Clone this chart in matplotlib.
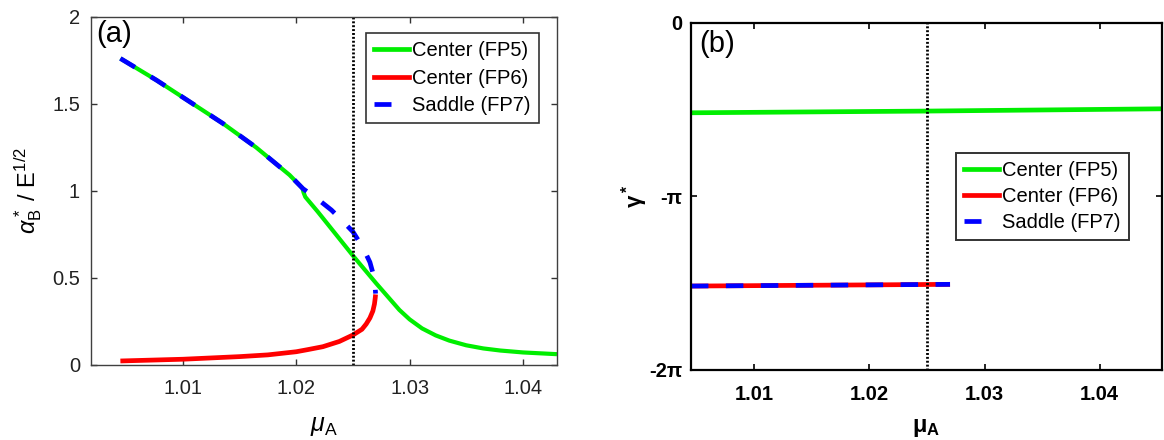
import numpy as np
import matplotlib
matplotlib.use("Agg")
import matplotlib.pyplot as plt
from matplotlib.lines import Line2D

plt.rcParams['font.family'] = ['Liberation Sans', 'DejaVu Sans']
plt.rcParams['mathtext.fontset'] = 'custom'
plt.rcParams['mathtext.rm'] = 'Liberation Sans'
plt.rcParams['mathtext.it'] = 'Liberation Sans:italic'
plt.rcParams['mathtext.bf'] = 'Liberation Sans:bold'

# ---- panel (a) data: alpha_B* / E^(1/2) vs mu_A ----
fp5_mu = [1.00449, 1.00766, 1.01059, 1.01353, 1.01647, 1.01941, 1.02055, 1.02065,
          1.0208, 1.0219, 1.0235, 1.0250, 1.02705, 1.0291, 1.0300, 1.0311, 1.0323,
          1.0335, 1.0350, 1.0365, 1.0380, 1.0400, 1.0430]
fp5_alpha = [1.760, 1.636, 1.512, 1.387, 1.249, 1.091, 1.015, 0.990,
             0.965, 0.880, 0.750, 0.628, 0.469, 0.316, 0.262, 0.210, 0.170,
             0.140, 0.113, 0.095, 0.083, 0.072, 0.062]

fp6_mu = [1.00449, 1.0100, 1.0150, 1.0175, 1.0200, 1.0210, 1.02235, 1.0238,
          1.0250, 1.0258, 1.02617, 1.0265, 1.02676, 1.0269, 1.02697, 1.0270]
fp6_alpha = [0.023, 0.033, 0.048, 0.058, 0.076, 0.088, 0.105, 0.135,
             0.172, 0.205, 0.235, 0.270, 0.310, 0.350, 0.385, 0.405]

fp7_mu = [1.00449, 1.00766, 1.01059, 1.01353, 1.01647, 1.01941, 1.0206, 1.0219,
          1.0231, 1.0241, 1.0250, 1.0259, 1.0265, 1.0268, 1.02695, 1.0270]
fp7_alpha = [1.760, 1.636, 1.512, 1.387, 1.249, 1.091, 1.012, 0.952,
             0.890, 0.826, 0.765, 0.672, 0.590, 0.520, 0.460, 0.410]

# ---- panel (b) data: gamma* vs mu_A ----
fp5_mu_b = [1.0045, 1.0250, 1.0454]
fp5_gamma = [-1.628, -1.597, -1.556]
fp67_mu_b = [1.0045, 1.0270]
fp67_gamma = [-4.764, -4.733]

mu_mark = 1.025
labels = ['Center (FP5)', 'Center (FP6)', 'Saddle (FP7)']
green, red, blue = '#00ee00', '#ff0000', '#0000ff'
dotted = (0, (0.7, 0.7))

fig = plt.figure(figsize=(11.64, 4.40), dpi=100)
ax1 = fig.add_axes([0.0782, 0.1705, 0.4003, 0.7916])
ax2 = fig.add_axes([0.5936, 0.1591, 0.4046, 0.7890])

# panel (a)
ax1.plot(fp5_mu, fp5_alpha, color=green, lw=3.0, solid_capstyle='butt', solid_joinstyle='round')
ax1.plot(fp6_mu, fp6_alpha, color=red, lw=3.4, solid_capstyle='butt', solid_joinstyle='round')
ax1.plot(fp7_mu, fp7_alpha, color=blue, lw=3.4, dashes=(3.6, 3.9))
ax1.axvline(mu_mark, color='black', lw=2.0, ls=dotted)
ax1.set_xlim(1.0019, 1.0430)
ax1.set_ylim(0, 2)
ax1.set_xticks([1.01, 1.02, 1.03, 1.04])
ax1.set_xticklabels(['1.01', '1.02', '1.03', '1.04'])
ax1.set_yticks([0, 0.5, 1, 1.5, 2])
ax1.set_yticklabels(['0', '0.5', '1', '1.5', '2'])
ax1.tick_params(direction='in', top=True, right=True, length=4, width=1,
                labelsize=14.5, colors='#333333', labelcolor='#222222', pad=8)
ax1.tick_params(axis='x', pad=10)
for s in ax1.spines.values():
    s.set_color('#404040')
    s.set_linewidth(1.0)
ax1.set_xlabel(r'$\mu_\mathrm{A}$', fontsize=18)
ax1.xaxis.set_label_coords(0.5, -0.14)
ax1.set_ylabel(r'$\alpha^*_\mathrm{B}$ / E$^{1/2}$', fontsize=17)
ax1.yaxis.set_label_coords(-0.10, 0.5)
ax1.text(0.012, 0.99, '(a)', transform=ax1.transAxes, fontsize=21, va='top', ha='left')

h = [Line2D([], [], color=green, lw=3.4),
     Line2D([], [], color=red, lw=3.4),
     Line2D([], [], color=blue, lw=3.4, dashes=(3.6, 3.9))]
leg = ax1.legend(h, labels, loc='upper right', bbox_to_anchor=(0.961, 0.953),
                 borderaxespad=0, fontsize=14.5, handlelength=1.75, handletextpad=0.15,
                 labelspacing=0.42, borderpad=0.4, fancybox=False, framealpha=1)
leg.get_frame().set_edgecolor('#333333')
leg.get_frame().set_linewidth(1.2)

# panel (b)
ax2.plot(fp5_mu_b, fp5_gamma, color=green, lw=3.4, solid_capstyle='butt')
ax2.plot(fp67_mu_b, fp67_gamma, color=red, lw=3.4, solid_capstyle='butt')
ax2.plot(fp67_mu_b, fp67_gamma, color=blue, lw=3.4, dashes=(3.7, 3.7))
ax2.axvline(mu_mark, color='black', lw=2.0, ls=dotted)
ax2.set_xlim(1.0045, 1.0454)
ax2.set_ylim(-2 * np.pi, 0)
ax2.set_xticks([1.01, 1.02, 1.03, 1.04])
ax2.set_xticklabels(['1.01', '1.02', '1.03', '1.04'], fontweight='bold')
ax2.set_yticks([0, -np.pi, -2 * np.pi])
ax2.set_yticklabels(['0', '-π', '-2π'], fontweight='bold')
ax2.tick_params(direction='in', top=True, right=True, length=4, width=1.2,
                labelsize=14.5, colors='black', pad=6)
ax2.tick_params(axis='x', pad=11)
for s in ax2.spines.values():
    s.set_color('black')
    s.set_linewidth(1.6)
ax2.set_xlabel(r'$\mathbf{\mu_A}$', fontsize=17)
ax2.xaxis.set_label_coords(0.5, -0.135)
ax2.set_ylabel(r'$\mathbf{\gamma^*}$', fontsize=16)
ax2.yaxis.set_label_coords(-0.087, 0.5)
ax2.text(0.017, 0.98, '(b)', transform=ax2.transAxes, fontsize=21, va='top', ha='left')

leg2 = ax2.legend(h, labels, loc='upper right', bbox_to_anchor=(0.930, 0.625),
                  borderaxespad=0, fontsize=14.5, handlelength=1.75, handletextpad=0.15,
                  labelspacing=0.35, borderpad=0.4, fancybox=False, framealpha=1)
leg2.get_frame().set_edgecolor('#333333')
leg2.get_frame().set_linewidth(1.4)

fig.savefig('out.png', dpi=100)
